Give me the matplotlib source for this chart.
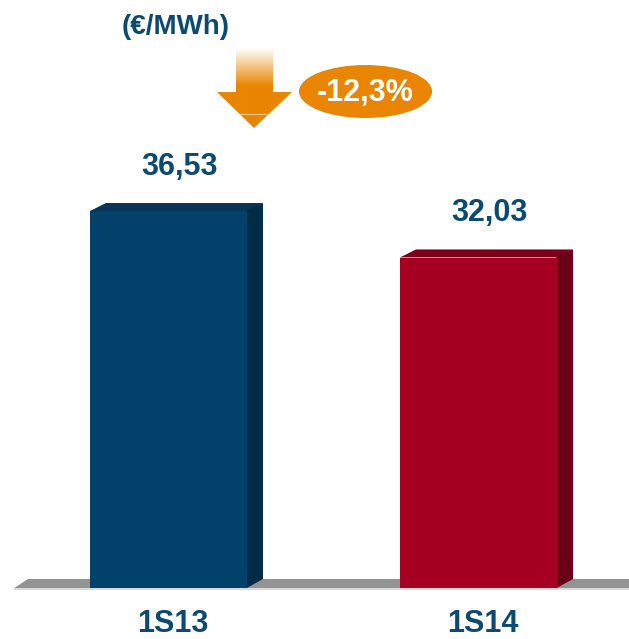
import numpy as np
import matplotlib
matplotlib.use("Agg")
import matplotlib.pyplot as plt
from matplotlib.patches import Polygon, Ellipse

# ---Data
categories = ["1S13", "1S14"]
values = [36.53, 32.03]
value_labels = ["36,53", "32,03"]
change_label = "-12,3%"
unit_label = "(€/MWh)"

front_colors = ["#02426A", "#A50021"]
top_colors = ["#063556", "#7C0019"]
side_colors = ["#032B46", "#6A0016"]
text_color = "#0C4A70"
orange = "#E98500"

W, H = 629, 639
plt.rcParams["font.family"] = ["Liberation Sans", "DejaVu Sans"]

fig = plt.figure(figsize=(W / 100, H / 100), dpi=100)

# ---Main axes: categories on x, values on y (full figure)
ax = fig.add_axes([0, 0, 1, 1])
px_per_x = 310.0          # pixels per category step
px_per_y = 10.32          # pixels per €/MWh
x0_px, y0_px = 168.5, 587.0
ax.set_xlim(-x0_px / px_per_x, (W - x0_px) / px_per_x)
ax.set_ylim(-(H - y0_px) / px_per_y, y0_px / px_per_y)
ax.axis("off")

xs = np.arange(len(categories))
width = 157 / px_per_x
dx = 16 / px_per_x
dy = 7 / px_per_y
eps = 1.0 / px_per_y      # overlap so no seam shows between faces

# ---Floor (grey band with slanted left end)
floor_top = 8 / px_per_y
floor_bot = -1.2 / px_per_y
fl = -x0_px / px_per_x
ax.add_patch(Polygon([(fl + 14 / px_per_x, floor_bot), (fl + 28 / px_per_x, floor_top),
                      (fl + W / px_per_x, floor_top), (fl + W / px_per_x, floor_bot)],
                     closed=True, color="#939393", lw=0, zorder=1))
ax.add_patch(Polygon([(fl + 14 / px_per_x, floor_bot), (fl + W / px_per_x, floor_bot),
                      (fl + W / px_per_x, floor_bot - 2 / px_per_y),
                      (fl + 14 / px_per_x, floor_bot - 2 / px_per_y)],
                     closed=True, color="#DADADA", lw=0, zorder=1))

# ---Bars with a simple 3D top and side
bars = ax.bar(xs, values, width=width, bottom=floor_bot, color=front_colors,
              linewidth=0, zorder=3)
lab_dx = 11 / px_per_x
for x, v, tc, sc, lab in zip(xs, values, top_colors, side_colors, value_labels):
    left, right = x - width / 2, x + width / 2
    ax.add_patch(Polygon([(left, v - eps), (left + dx, v + dy), (right + dx, v + dy),
                          (right, v - eps)],
                         closed=True, color=tc, lw=0, zorder=2.9))
    ax.add_patch(Polygon([(right - 0.002, v), (right + dx, v + dy), (right + dx, floor_top),
                          (right - 0.002, floor_bot)],
                         closed=True, color=sc, lw=0, zorder=2.9))
    ax.text(x + lab_dx, v + 43.5 / px_per_y, lab, ha="center", va="center",
            fontsize=22, fontweight="bold", color=text_color)

for x, c in zip(xs, categories):
    ax.text(x + 4 / px_per_x, -(624 - y0_px) / px_per_y, c, ha="center", va="center",
            fontsize=22, fontweight="bold", color=text_color)

# ---Overlay in pixel coordinates for the annotation graphics
ov = fig.add_axes([0, 0, 1, 1], facecolor="none")
ov.set_xlim(0, W)
ov.set_ylim(H, 0)
ov.axis("off")

ov.text(175.5, 27, unit_label, ha="center", va="center", fontsize=20,
        fontweight="bold", color=text_color)

# arrow with a fading shaft
arrow = Polygon([(236, 48), (273, 48), (273, 92), (292, 92), (254, 128),
                 (217, 92), (236, 92)], closed=True, facecolor="none", lw=0)
ov.add_patch(arrow)
grad = np.clip((np.linspace(48, 128, 200) - 48) / 38, 0, 1)
rgb = np.array(matplotlib.colors.to_rgb(orange))
img = np.ones((200, 1, 3)) * (1 - grad[:, None, None]) + rgb * grad[:, None, None]
im = ov.imshow(img, extent=(210, 300, 128, 48), aspect="auto", zorder=4)
im.set_clip_path(arrow)
ov.plot([240, 268], [114, 114], color="#F6C98A", lw=0.8, zorder=5)

ov.add_patch(Ellipse((365.5, 91.5), 133, 53, color=orange, lw=0, zorder=4))
ov.text(365, 93, change_label, ha="center", va="center", fontsize=22,
        fontweight="bold", color="white", zorder=5)

fig.savefig("out.png", dpi=100)
